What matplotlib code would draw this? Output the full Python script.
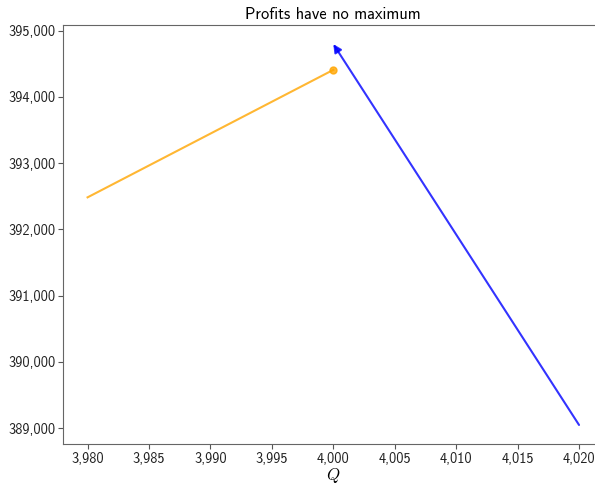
import matplotlib
matplotlib.use("Agg")
import matplotlib.pyplot as plt
from matplotlib.ticker import FuncFormatter

# Data
q_orange = [3980, 4000]
profit_orange = [392484, 394409]
q_blue = [4020, 4000]
profit_blue = [389047, 394799]
title = "Profits have no maximum"
xlabel = r"$Q$"

plt.rcParams['font.family'] = ['cmss10', 'DejaVu Sans']
plt.rcParams['mathtext.fontset'] = 'cm'
plt.rcParams['axes.unicode_minus'] = False

fig = plt.figure(figsize=(5.95, 4.84), dpi=100)
# axes extends slightly past the right edge (cropped like the reference)
ax = fig.add_axes([63/595, 1 - 444/484, (603.6 - 63)/595, (444 - 25)/484])

ax.plot(q_orange, profit_orange, color='orange', alpha=0.8, lw=1.5)
ax.plot(q_orange[-1:], profit_orange[-1:], 'o', color='orange', alpha=0.8, ms=5)
ax.annotate('', xy=(q_blue[1], profit_blue[1]), xytext=(q_blue[0], profit_blue[0]),
            arrowprops=dict(arrowstyle='-|>', color='blue', alpha=0.8, lw=1.5,
                            mutation_scale=12, shrinkA=0, shrinkB=0))

xs = q_orange + q_blue
ys = profit_orange + profit_blue
xr = max(xs) - min(xs)
yr = max(ys) - min(ys)
ax.set_xlim(min(xs) - 0.05 * xr, max(xs) + 0.05 * xr)
ax.set_ylim(min(ys) - 0.05 * yr, max(ys) + 0.05 * yr)

ax.set_xticks(range(3980, 4021, 5))
ax.set_yticks(range(389000, 395001, 1000))
fmt = FuncFormatter(lambda v, p: f"{v:,.0f}")
ax.xaxis.set_major_formatter(fmt)
ax.yaxis.set_major_formatter(fmt)
ax.tick_params(labelsize=10.3, colors='#555555', labelcolor='#222222', length=3.5, pad=2)
for s in ax.spines.values():
    s.set_color('#666666')
ax.spines['right'].set_visible(False)

ax.set_xlabel(xlabel, fontsize=12, labelpad=0)
ax.set_title(title, fontsize=11.8, pad=4)

fig.savefig('out.png', dpi=100)
